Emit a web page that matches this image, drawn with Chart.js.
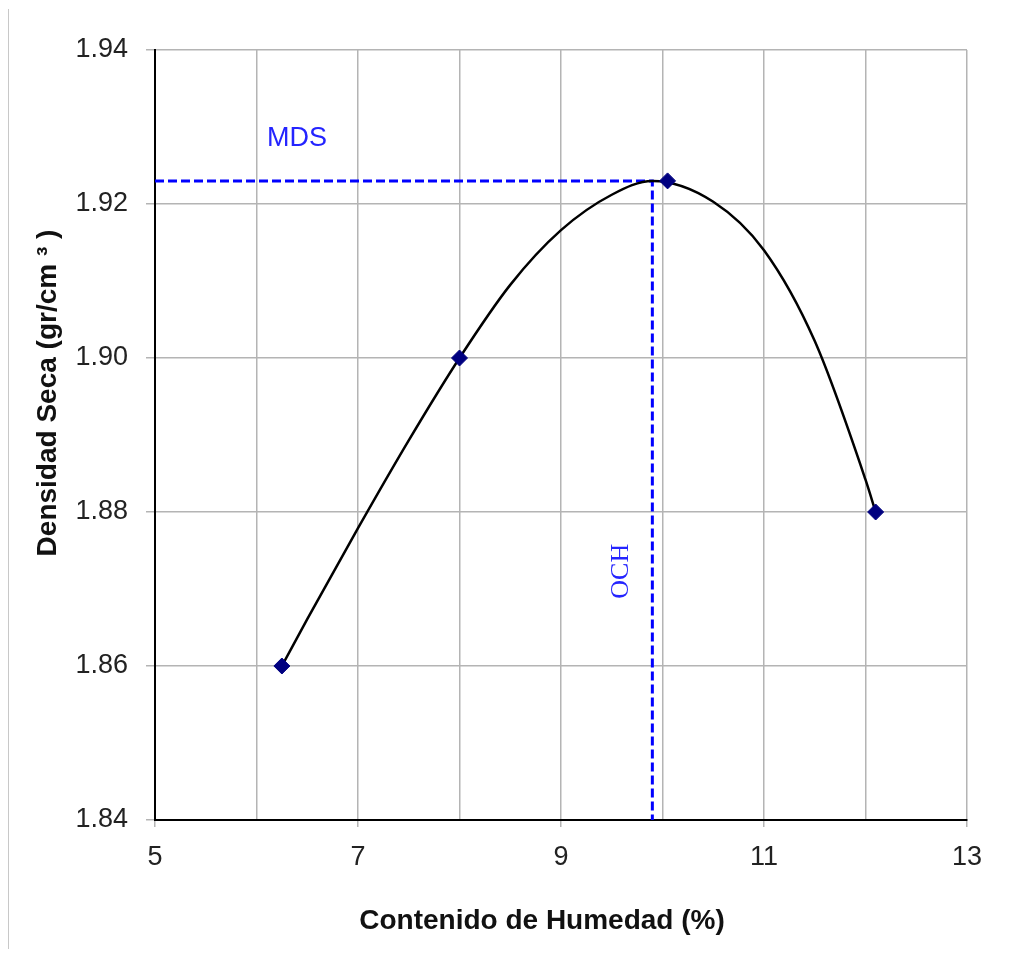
<!DOCTYPE html>
<html>
<head>
<meta charset="utf-8">
<script src="https://cdn.jsdelivr.net/npm/chart.js@4/dist/chart.umd.min.js"></script>
<style>
  html, body { margin: 0; padding: 0; background: #fff; }
  #wrap { position: relative; width: 1014px; height: 953px; }
  #pageLine { position: absolute; left: 8px; top: 9px; width: 1px; height: 940px; background: #c8c8c8; }
  canvas { position: absolute; left: 0; top: 0; }
</style>
</head>
<body>
<div id="wrap">
  <div id="pageLine"></div>
  <canvas id="chart" width="1014" height="953"></canvas>
</div>
<script>
// --- Measured points ---
const humedad = [6.25, 8.0, 10.05, 12.1];       // Contenido de Humedad (%)
const densidad = [1.86, 1.90, 1.923, 1.88];     // Densidad Seca (gr/cm3)

// --- Trend curve ---
const curvaX = [6.25, 6.5, 7, 7.5, 8, 8.5, 9, 9.5, 9.9, 10.5, 11, 11.5, 12, 12.1];
const curvaY = [1.8600, 1.8661, 1.8779, 1.8893, 1.9000, 1.9095, 1.9166, 1.9212, 1.9230, 1.9203, 1.9140, 1.9022, 1.8842, 1.8800];

const mdsValue = 1.923;   // maxima densidad seca
const ochValue = 9.9;     // optimo contenido de humedad

const xMin = 5, xMax = 13, xStep = 1;
const yMin = 1.84, yMax = 1.94, yStep = 0.02;

const xTitle = 'Contenido de Humedad (%)';
const yTitle = 'Densidad Seca (gr/cm ³ )';

// --- Build datasets ---
const markerPoints = humedad.map((x, i) => ({ x: x, y: densidad[i] }));
const curvePoints = curvaX.map((x, i) => ({ x: x, y: curvaY[i] }));
const guidePoints = [
  { x: xMin, y: mdsValue },
  { x: ochValue, y: mdsValue },
  { x: ochValue, y: yMin }
];

// --- Labels & titles drawn on top ---
const labelsPlugin = {
  id: 'labels',
  afterDraw(chart) {
    const ctx = chart.ctx;
    const xs = chart.scales.x;
    const ys = chart.scales.y;
    const area = chart.chartArea;
    ctx.save();

    // MDS label
    ctx.fillStyle = '#2424ff';
    ctx.font = '27px "Liberation Sans", Arial, sans-serif';
    ctx.textAlign = 'center';
    ctx.textBaseline = 'middle';
    ctx.fillText('MDS', xs.getPixelForValue(6.4), ys.getPixelForValue(1.9285));

    // OCH label (rotated)
    ctx.save();
    ctx.translate(xs.getPixelForValue(ochValue) - 31, ys.getPixelForValue(1.8723));
    ctx.rotate(-Math.PI / 2);
    ctx.font = '26px "Liberation Serif", "Times New Roman", serif';
    ctx.fillText('OCH', 0, 0);
    ctx.restore();

    // axis titles
    ctx.fillStyle = '#111';
    ctx.font = 'bold 28px "Liberation Sans", Arial, sans-serif';
    ctx.fillText(xTitle, (area.left + area.right) / 2 - 19, 921);

    ctx.save();
    ctx.translate(48, (area.top + area.bottom) / 2 - 42);
    ctx.rotate(-Math.PI / 2);
    ctx.fillText(yTitle, 0, 0);
    ctx.restore();

    ctx.restore();
  }
};

const ctx = document.getElementById('chart').getContext('2d');
const chart = new Chart(ctx, {
  type: 'scatter',
  data: {
    datasets: [
      {
        label: 'guias',
        data: guidePoints,
        showLine: true,
        borderColor: '#0000ff',
        borderWidth: 3,
        borderDash: [9, 4],
        pointRadius: 0,
        tension: 0,
        order: 3
      },
      {
        label: 'curva',
        data: curvePoints,
        showLine: true,
        borderColor: '#000000',
        borderWidth: 2.5,
        cubicInterpolationMode: 'monotone',
        pointRadius: 0,
        order: 2
      },
      {
        label: 'Densidad',
        data: markerPoints,
        showLine: false,
        pointStyle: 'rectRot',
        pointRadius: 8,
        pointBackgroundColor: '#000080',
        pointBorderColor: '#000080',
        order: 1
      }
    ]
  },
  options: {
    responsive: false,
    animation: false,
    events: [],
    layout: { padding: { left: 0, right: 47, top: 50, bottom: 0 } },
    plugins: {
      legend: { display: false },
      tooltip: { enabled: false }
    },
    scales: {
      x: {
        type: 'linear',
        min: xMin,
        max: xMax,
        afterFit(scale) { scale.height = 133; },
        ticks: {
          stepSize: xStep,
          color: '#222',
          padding: 14,
          font: { family: '"Liberation Sans", Arial, sans-serif', size: 27 },
          callback: v => (v % 2 === 1 ? String(v) : '')
        },
        grid: {
          color: '#b4b4b4',
          lineWidth: 1.5,
          tickLength: 7,
          tickColor: c => (c.tick && c.tick.value % 2 === 1 ? '#b4b4b4' : 'rgba(0,0,0,0)')
        },
        border: { color: '#000', width: 2 }
      },
      y: {
        type: 'linear',
        min: yMin,
        max: yMax,
        afterFit(scale) { scale.width = 155; },
        ticks: {
          stepSize: yStep,
          color: '#222',
          padding: 18,
          font: { family: '"Liberation Sans", Arial, sans-serif', size: 27 },
          callback: v => v.toFixed(2)
        },
        grid: {
          color: '#b4b4b4',
          lineWidth: 1.5,
          tickLength: 9
        },
        border: { color: '#000', width: 2 }
      }
    }
  },
  plugins: [labelsPlugin]
});
</script>
</body>
</html>
